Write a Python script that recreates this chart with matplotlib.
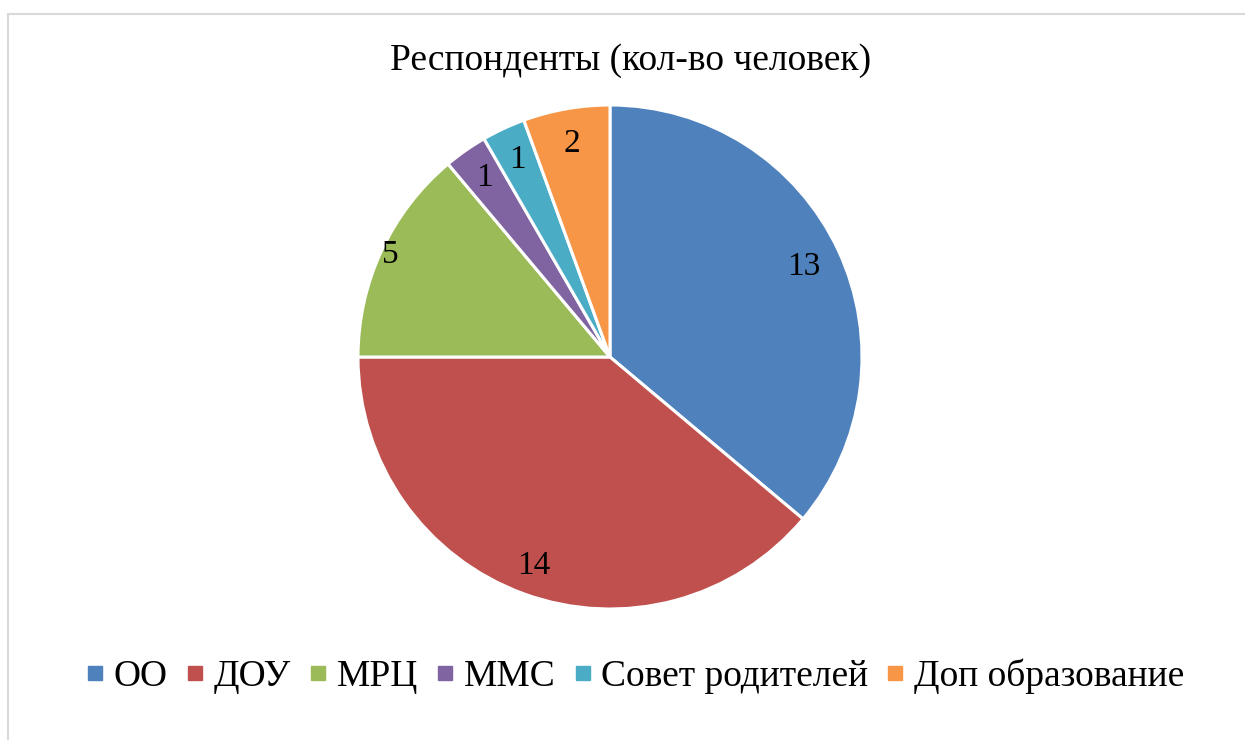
import matplotlib
matplotlib.use("Agg")
import matplotlib.pyplot as plt
from matplotlib.lines import Line2D
from matplotlib.patches import Rectangle
import numpy as np

categories = ["ОО", "ДОУ", "МРЦ", "ММС", "Совет родителей", "Доп образование"]
values = [13, 14, 5, 1, 1, 2]
colors = ["#4F81BD", "#C0504D", "#9BBB59", "#8064A2", "#4BACC6", "#F79646"]
title = "Респонденты (кол-во человек)"

plt.rcParams['font.family'] = ['Liberation Serif', 'DejaVu Serif']

W, H = 1245, 740
fig = plt.figure(figsize=(W/100, H/100), dpi=100)

# chart border
fig.patches.append(Rectangle((8/W, -0.1), 1.2, (740-14)/H + 0.1, transform=fig.transFigure,
                             fill=False, edgecolor="#D9D9D9", linewidth=1.5))

cx, cy, r = 610, 357, 252
ax = fig.add_axes([(cx - r)/W, (H - cy - r)/H, 2*r/W, 2*r/H])
wedges, _ = ax.pie(values, colors=colors, startangle=90, counterclock=False,
                   radius=1, wedgeprops=dict(edgecolor="white", linewidth=2.2))
ax.set_xlim(-1, 1)
ax.set_ylim(-1, 1)
ax.set_aspect("equal")
ax.axis("off")

label_dist = [0.85, 0.88, 0.96, 0.87, 0.865, 0.86]
for w, v, d in zip(wedges, values, label_dist):
    ang = np.deg2rad((w.theta1 + w.theta2) / 2)
    ax.text(d*np.cos(ang), d*np.sin(ang), str(v), ha="center", va="center",
            fontsize=24, color="black")

fig.text(631/W, 1 - 61/H, title, ha="center", va="center", fontsize=27)

handles = [Line2D([], [], marker="s", linestyle="none", markersize=10,
                  markerfacecolor=c, markeredgecolor=c) for c in colors]
fig.legend(handles, categories, loc="center", bbox_to_anchor=(636/W, 1 - 676/H),
           ncol=6, frameon=False, fontsize=27, handlelength=0.4,
           handletextpad=0.3, columnspacing=0.52)

fig.savefig("out.png", dpi=100)
